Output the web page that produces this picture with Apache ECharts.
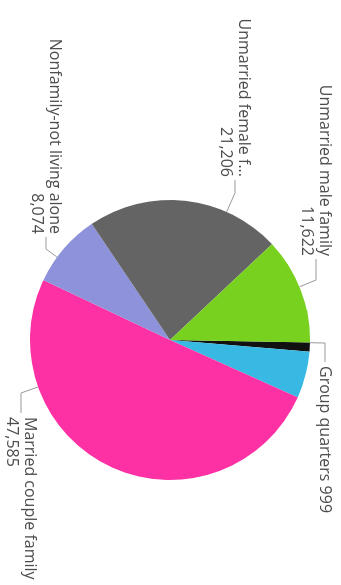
<!DOCTYPE html>
<html>
<head>
<meta charset="utf-8">
<script src="https://cdn.jsdelivr.net/npm/echarts@6/dist/echarts.min.js"></script>
<style>
  html, body { margin: 0; padding: 0; background: #ffffff; overflow: hidden; width: 341px; height: 585px; }
  /* The chart is laid out landscape and turned a quarter turn clockwise. */
  #chart {
    position: absolute; left: 0; top: 0;
    width: 585px; height: 341px;
    transform-origin: 0 0;
    transform: translate(341px, 0) rotate(90deg);
  }
</style>
</head>
<body>
<div id="chart"></div>
<script>
// Household types, listed in the order the slices run clockwise from 12 o'clock
const categories = [
  'Group quarters',
  'Householder living alone',
  'Married couple family',
  'Nonfamily-not living alone',
  'Unmarried female family',
  'Unmarried male family'
];
const values = [999, 5100, 47585, 8074, 21206, 11622];

// Slice palette
const palette = ['#111111', '#37B9E4', '#FD31A4', '#8D92DA', '#646464', '#78D11F'];

// Pie geometry (landscape coordinates)
const PIE_CX = 340, PIE_CY = 171, PIE_R = 140;

// Where each data label sits and where its leader line bends
const labelSpots = {
  'Group quarters':             { x: 366, y: 16,  align: 'left',  bend: [343, 16] },
  'Unmarried male family':      { x: 256, y: 25,  align: 'right', bend: [280, 25] },
  'Unmarried female family':    { x: 177, y: 106, align: 'right', bend: [193, 106], width: 166 },
  'Nonfamily-not living alone': { x: 234, y: 295, align: 'right', bend: [249, 295] },
  'Married couple family':      { x: 417, y: 320, align: 'left',  bend: [393, 320] }
};

const fmt = v => v.toLocaleString('en-US');

const seriesData = categories.map((name, i) => {
  const item = { name: name, value: values[i], itemStyle: { color: palette[i] } };
  const spot = labelSpots[name];
  if (!spot) {
    item.label = { show: false };
    item.labelLine = { show: false };
  } else if (spot.width) {
    item.label = { width: spot.width, overflow: 'truncate', ellipsis: '...' };
  }
  return item;
});

const chart = echarts.init(document.getElementById('chart'), null, { renderer: 'canvas' });

chart.setOption({
  backgroundColor: '#ffffff',
  animation: false,
  series: [{
    type: 'pie',
    center: [PIE_CX, PIE_CY],
    radius: PIE_R,
    startAngle: 89,
    clockwise: true,
    avoidLabelOverlap: false,
    itemStyle: { borderWidth: 0 },
    emphasis: { disabled: true },
    label: {
      show: true,
      position: 'outside',
      fontFamily: '"Open Sans", "Noto Sans", sans-serif',
      fontSize: 16,
      lineHeight: 18,
      color: '#4d4d4d',
      formatter: p => (p.dataIndex === 0 ? p.name + ' ' + fmt(p.value) : p.name + '\n' + fmt(p.value))
    },
    labelLine: {
      show: true,
      length: 10,
      length2: 10,
      lineStyle: { color: '#9a9a9a', width: 1 }
    },
    labelLayout: function (params) {
      const name = categories[params.dataIndex];
      const spot = labelSpots[name];
      if (!spot) return {};
      // leader starts on the rim at the point nearest the bend
      const dx = spot.bend[0] - PIE_CX, dy = spot.bend[1] - PIE_CY;
      const len = Math.sqrt(dx * dx + dy * dy);
      const rim = [PIE_CX + dx / len * PIE_R, PIE_CY + dy / len * PIE_R];
      const endX = spot.align === 'left' ? spot.x - 4 : spot.x + 3;
      return {
        x: spot.x,
        y: spot.y,
        align: spot.align,
        verticalAlign: 'middle',
        labelLinePoints: [rim, spot.bend, [endX, spot.bend[1]]]
      };
    },
    data: seriesData
  }]
});
</script>
</body>
</html>
